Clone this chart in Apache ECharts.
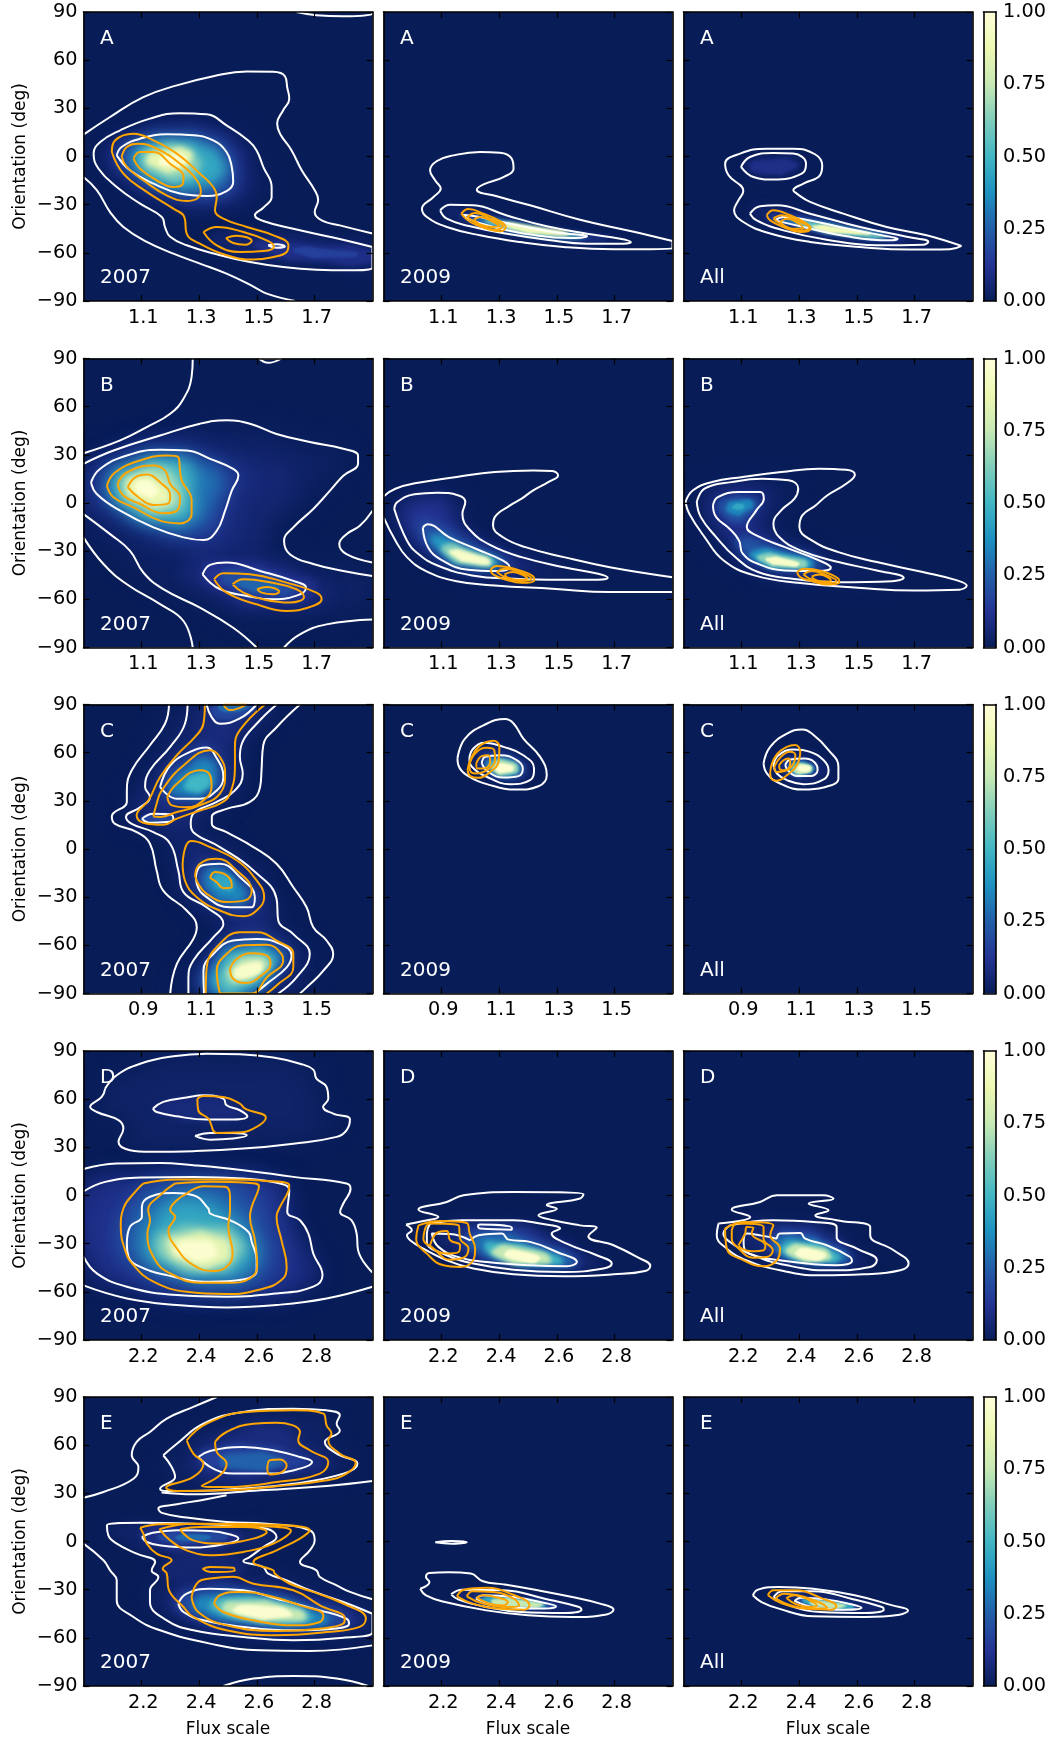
<!DOCTYPE html>
<html><head><meta charset="utf-8"><style>html,body{margin:0;background:#fff}#c{width:1055px;height:1740px}</style>
<script src="https://cdn.jsdelivr.net/npm/echarts@6/dist/echarts.min.js"></script></head><body><div id="c"></div>
<script>
const rowNames=['A','B','C','D','E'];
const yearNames=['2007','2009','All'];
const xRanges=[[0.9,1.9],[0.9,1.9],[0.7,1.7],[2,3],[2,3]];
const xTicks=[[1.1,1.3,1.5,1.7],[1.1,1.3,1.5,1.7],[0.9,1.1,1.3,1.5],[2.2,2.4,2.6,2.8],[2.2,2.4,2.6,2.8]];
const colorStops=['#081d58','#253494','#225ea8','#1d91c0','#41b6c4','#7fcdbb','#c7e9b4','#edf8b1','#ffffd9'];

// ---- A ----
const heatA2007=[
[.04,[.96,3,1.05,14,1.2,20,1.35,20,1.47,8,1.5,-10,1.5,-25,1.38,-33,1.2,-30,1.05,-18]],
[.04,[1.35,-48,1.55,-47,1.75,-51,1.9,-56,1.9,-69,1.7,-68,1.5,-64,1.35,-57]],
[.1,[1.5,-53,1.7,-55,1.9,-59,1.9,-66,1.7,-65,1.55,-61]],
[.12,[1,3,1.1,13,1.2,17,1.33,15,1.42,5,1.45,-10,1.43,-22,1.33,-28,1.2,-25,1.05,-12]],
[.16,[1.63,-57,1.75,-58,1.85,-61,1.75,-63,1.65,-61]],
[.25,[1.03,1,1.1,11,1.2,13.5,1.33,11,1.4,2,1.415,-10,1.4,-20,1.3,-24,1.17,-19,1.06,-8]],
[.45,[1.07,0,1.13,8,1.22,10,1.32,7,1.38,-2,1.38,-12,1.3,-19,1.2,-19,1.11,-12]],
[.65,[1.1,-1,1.16,6,1.24,7,1.29,1,1.3,-8,1.25,-14,1.17,-13]],
[.85,[1.12,-1,1.19,4,1.26,4,1.27,-3,1.22,-9,1.16,-8]],
[.97,[1.16,-3,1.2,1,1.25,0,1.24,-5,1.19,-6]]];
const whiteA2007=[
[1.637,90,1.706,88,1.8,87.3,1.9,89,1.9,90],
[.9,13.6,.992,24.6,1.107,37,1.223,44.3,1.349,50,1.465,53,1.557,52.8,1.597,50,1.605,43,1.612,36,1.591,28.8,1.57,20.5,1.58,14.2,1.62,3.8,1.655,-8.6,1.7,-21,1.712,-27,1.7,-34.6,1.724,-39.8,1.787,-42.9,1.9,-48],
[.9,-12.8,.946,-21,.992,-34.6,1.038,-43.9,1.119,-53.2,1.211,-60.5,1.303,-66.7,1.395,-73,1.488,-81,1.534,-85.4,1.632,-90],
[1.9,-56.4,1.764,-50.5,1.626,-45,1.522,-40.2,1.493,-36.6,1.522,-31.9,1.551,-25.2,1.551,-19,1.522,-6.5,1.499,3.8,1.47,10,1.395,19.4,1.326,26.3,1.234,27,1.13,23.6,1.027,16.3,.958,9,.935,1.8,.952,-7.6,1.015,-19,1.096,-29.4,1.171,-37.7,1.182,-44,1.2,-50,1.257,-55.3,1.361,-60.9,1.476,-65.7,1.591,-68.8,1.706,-70.5,1.822,-70.9,1.9,-69.2],
[1.015,.7,1.032,5.9,1.096,11.1,1.188,13.8,1.28,13.2,1.349,10,1.395,2.8,1.413,-6.5,1.418,-15.9,1.395,-21.5,1.326,-24.6,1.234,-23.1,1.142,-16.9,1.061,-8.6],
[1.539,-55.3,1.568,-54.7,1.597,-56,1.568,-56.8]];
const orangeA2007=[
[.998,2.8,1.009,10,1.073,14.2,1.142,10,1.223,1.8,1.303,-10.7,1.349,-19,1.361,-25.2,1.355,-33.5,1.384,-38.7,1.465,-43.9,1.557,-49.1,1.609,-55.3,1.603,-59.5,1.557,-62.6,1.488,-64.2,1.395,-61.5,1.303,-54.3,1.257,-48,1.249,-37.7,1.211,-32.5,1.119,-22,1.038,-10.7],
[1.032,-.3,1.05,5.9,1.09,8,1.153,4.9,1.234,-4.5,1.292,-14.8,1.306,-22,1.292,-26.3,1.257,-27.7,1.188,-24.2,1.107,-14.8,1.05,-6.5],
[1.073,-1.3,1.096,2.8,1.142,2.8,1.2,-4.5,1.246,-12.8,1.243,-17.3,1.211,-19,1.153,-14.8,1.096,-7.6],
[1.315,-47,1.361,-43.9,1.453,-47,1.534,-52.2,1.559,-56,1.522,-58.9,1.441,-59.5,1.361,-55.3],
[1.393,-50.8,1.43,-49.3,1.482,-52.6,1.459,-54.9,1.418,-53.9]];

const heatA2009=[
[.04,[1.11,-34,1.2,-31.5,1.33,-37,1.47,-44,1.6,-48.5,1.73,-52,1.6,-54,1.46,-51.5,1.33,-48,1.2,-43]],
[.15,[1.17,-36,1.3,-39,1.45,-44.5,1.6,-49,1.68,-51,1.55,-52,1.4,-49,1.28,-45,1.19,-40]],
[.35,[1.21,-38,1.34,-41.5,1.48,-46.5,1.6,-49.7,1.54,-50.5,1.41,-48,1.29,-43.5]],
[.6,[1.25,-39.5,1.37,-42.5,1.5,-47,1.58,-50,1.48,-49.7,1.35,-46.5]],
[.9,[1.31,-41.5,1.42,-43.5,1.54,-48,1.46,-48.7,1.35,-45.5]]];
const whiteA2009=[
[1.9,-52.6,1.754,-46.4,1.58,-39.4,1.407,-30.4,1.292,-24.8,1.223,-20.7,1.246,-17.4,1.315,-12.8,1.35,-7.6,1.344,-1.4,1.303,2.4,1.234,2.8,1.142,.7,1.085,-2.8,1.061,-8.6,1.079,-14.9,1.098,-20,1.073,-25.2,1.033,-32.5,1.05,-37.7,1.119,-43.9,1.234,-49.1,1.373,-53.3,1.523,-56.4,1.696,-57.8,1.9,-57.4],
[1.096,-33.5,1.131,-30,1.211,-30.4,1.327,-36.7,1.465,-43.5,1.604,-48.1,1.719,-51.2,1.756,-53.3,1.73,-54.3,1.604,-54.3,1.465,-51.8,1.327,-48.1,1.2,-43.5,1.119,-38.7],
[1.174,-36.3,1.234,-37.7,1.35,-42.3,1.488,-47,1.604,-49.7,1.546,-50.8,1.407,-48.5,1.281,-43.9,1.194,-39]];
const orangeA2009=[
[1.169,-35.6,1.194,-32.7,1.246,-35.6,1.298,-39.8,1.323,-43.9,1.304,-46.6,1.258,-45,1.2,-40.8],
[1.19,-37.7,1.217,-35.2,1.269,-38.7,1.313,-43.5,1.286,-45.6,1.234,-42.9],
[1.213,-39.4,1.234,-37.7,1.281,-40.8,1.301,-43.5,1.275,-43.9,1.234,-42.3]];

const heatAAll=[
[.04,[1.13,-34,1.2,-30.5,1.34,-36,1.5,-43.5,1.67,-50,1.73,-54,1.57,-54.5,1.39,-51,1.25,-46,1.15,-39]],
[.04,[1.11,-6,1.14,-1,1.21,1.5,1.28,1,1.31,-4.5,1.29,-10,1.21,-13.5,1.14,-12]],
[.1,[1.13,-6,1.2,-2,1.29,-4,1.28,-8,1.2,-11]],
[.15,[1.19,-37.5,1.25,-36,1.35,-38.5,1.47,-43.5,1.6,-48.5,1.66,-51,1.6,-52.5,1.46,-50,1.32,-45]],
[.35,[1.24,-39.5,1.36,-40.5,1.48,-45,1.6,-49.5,1.6,-51,1.47,-49,1.33,-44]],
[.6,[1.29,-40.5,1.4,-42.5,1.5,-46,1.6,-50,1.46,-49,1.34,-45]],
[.9,[1.35,-43,1.45,-44.5,1.55,-48,1.45,-48,1.37,-46]]];
const whiteAAll=[
[1.862,-55.7,1.741,-49,1.603,-43.9,1.453,-35.6,1.338,-28.3,1.292,-23.1,1.28,-21,1.315,-16.9,1.372,-11.7,1.38,-5.5,1.355,1.4,1.28,4.9,1.188,4.9,1.096,1.8,1.044,-4.5,1.056,-11.7,1.107,-21.5,1.09,-27.3,1.075,-33.5,1.107,-40.8,1.2,-48,1.338,-53.2,1.511,-56.4,1.683,-58,1.822,-57.8],
[1.099,-6.5,1.13,-.3,1.211,2.2,1.28,1.8,1.324,-4.5,1.309,-10.7,1.211,-14.4,1.142,-12.8],
[1.13,-35.6,1.165,-31,1.223,-30.4,1.338,-35.6,1.511,-43.9,1.672,-50,1.747,-53.2,1.729,-54.9,1.568,-55.3,1.395,-51.8,1.246,-46,1.153,-39.8],
[1.217,-39.8,1.246,-37.7,1.338,-39.8,1.465,-44.9,1.603,-49.7,1.641,-51.2,1.614,-52.2,1.465,-49.7,1.315,-43.9]];
const orangeAAll=[
[1.188,-36.6,1.211,-33.5,1.269,-36.6,1.326,-41.8,1.34,-45,1.303,-47,1.246,-43.9,1.2,-39.8],
[1.211,-38.7,1.24,-36.6,1.292,-39.8,1.336,-44.3,1.303,-46.4,1.246,-42.9],
[1.234,-40.8,1.257,-38.7,1.303,-42.2,1.315,-45,1.28,-45,1.252,-43.5]];

// ---- B ----
const heatB2007=[
[.03,[.9,20,1.1,37,1.4,47,1.7,35,1.8,30,1.7,8,1.55,-25,1.65,-38,1.9,-46,1.9,-60,1.6,-70,1.3,-60,1.05,-35,.9,-8]],
[.06,[.9,12,1,27,1.2,37,1.4,30,1.6,22,1.6,5,1.5,-15,1.5,-30,1.35,-32,1.2,-24,1,-10,.9,-3]],
[.06,[1.25,-38,1.45,-33,1.7,-47,1.75,-58,1.55,-67,1.35,-58]],
[.12,[1.31,-42,1.4,-37,1.6,-44,1.7,-54,1.55,-62,1.4,-56]],
[.15,[.93,13,1.05,30,1.2,34,1.35,27,1.45,17,1.41,2,1.37,-20,1.28,-24,1.03,-6]],
[.2,[1.37,-46,1.45,-42,1.6,-48,1.64,-54,1.52,-58,1.42,-53]],
[.27,[1.43,-49,1.5,-48,1.58,-52,1.52,-55,1.46,-53]],
[.3,[.98,13,1.05,25,1.2,30,1.3,26,1.38,16,1.35,0,1.3,-14,1.15,-14,1.02,-3]],
[.5,[1,12,1.08,23,1.2,27,1.27,22,1.28,5,1.27,-8,1.17,-11,1.06,-3]],
[.7,[1.03,11,1.09,20,1.18,22,1.22,15,1.24,2,1.2,-5,1.1,-3]],
[.88,[1.05,10,1.09,17,1.15,15,1.2,5,1.18,-1,1.1,1]],
[.98,[1.08,10,1.11,14,1.15,10,1.15,5,1.11,5]]];
const whiteB2007=[
[1.278,90,1.274,78.5,1.246,65,1.2,55.6,1.119,47.3,1.027,39,.9,31],
[1.507,90,1.539,87.3,1.585,90],
[.9,24.4,1.004,32.7,1.165,42,1.303,49.4,1.395,51.5,1.476,49.4,1.568,43,1.683,38,1.799,33.8,1.85,29.6,1.85,24.4,1.799,17,1.753,7.7,1.695,-3.7,1.626,-15.2,1.594,-23.5,1.614,-31.9,1.695,-38,1.799,-42.3,1.9,-45.4],
[1.9,-4.8,1.856,-14.2,1.81,-19.4,1.785,-25.6,1.81,-31.9,1.9,-37],
[.9,-6.9,.992,-19.4,1.061,-29.8,1.107,-43.3,1.176,-53.7,1.303,-65.2,1.418,-77.7,1.499,-90],
[.9,-21.4,.969,-38,1.05,-50.6,1.165,-63,1.246,-73.5,1.278,-90],
[1.594,-90,1.649,-81.8,1.741,-75.6,1.9,-72.5],
[.926,12.9,.958,21.3,1.05,29.6,1.165,33.1,1.257,32.7,1.338,27.5,1.418,21.3,1.436,17.1,1.413,7.7,1.39,-4.8,1.361,-17.3,1.315,-23.1,1.246,-21.4,1.142,-15.2,1.027,-4.8,.946,5.6],
[1.312,-44.4,1.338,-38.5,1.395,-37,1.511,-42.3,1.626,-48.5,1.67,-52.7,1.649,-56.9,1.557,-60,1.465,-57.9,1.372,-53.7]];
const orangeB2007=[
[.981,10.8,1.009,19,1.096,26.5,1.188,29.6,1.228,28.6,1.234,20.2,1.24,14,1.274,1.5,1.274,-6.9,1.234,-12.7,1.165,-11,1.073,-2.7,1.004,3.6],
[1.018,11.9,1.05,19,1.142,23.3,1.182,20.2,1.2,11.9,1.234,3.6,1.228,-3.7,1.176,-6.4,1.096,-.6,1.038,4.6],
[1.053,9.8,1.079,16,1.119,17.7,1.165,12.9,1.2,4.6,1.194,-.2,1.142,-1.2,1.09,3.6],
[1.352,-47.5,1.384,-43.7,1.476,-44.4,1.603,-49.6,1.706,-55.8,1.724,-60,1.683,-64.8,1.603,-67.3,1.499,-63.1,1.395,-55.8],
[1.416,-50.6,1.453,-47.5,1.534,-49,1.637,-53.7,1.663,-58.5,1.614,-62,1.522,-60,1.453,-55.8],
[1.501,-53.7,1.534,-52.3,1.577,-55.2,1.557,-56.9,1.516,-55.8]];

const heatB2009=[
[.04,[.95,-2,1.01,4.5,1.15,4,1.17,-5,1.2,-18,1.3,-28,1.5,-38,1.6,-44,1.45,-46,1.25,-45,1.1,-37,.99,-22]],
[.12,[.97,-5,1.03,1,1.12,0,1.13,-10,1.2,-22,1.33,-34,1.4,-40,1.25,-42,1.1,-35,1,-20]],
[.22,[1.02,-12,1.06,-12,1.2,-25,1.33,-37,1.28,-41,1.17,-39,1.07,-28]],
[.4,[1.07,-20,1.2,-29,1.3,-37,1.2,-39,1.1,-31]],
[.65,[1.11,-26,1.2,-29.5,1.28,-37,1.2,-38.5,1.12,-33]],
[.95,[1.13,-29.5,1.2,-31,1.27,-37,1.2,-37.5,1.14,-33]]];
const whiteB2009=[
[.9,4.1,.941,8.9,1.02,12.6,1.153,16.2,1.285,19.3,1.418,20.3,1.484,20,1.504,17.2,1.47,13,1.418,7.9,1.378,2.7,1.338,-1.5,1.285,-8.8,1.279,-14,1.312,-21.2,1.391,-27.5,1.524,-33.7,1.683,-40,1.9,-46.2],
[.9,-8.8,.941,-23.3,.981,-33.7,1.047,-42.4,1.153,-48.7,1.285,-51.4,1.484,-53.4,1.683,-55.5,1.9,-55.5],
[.937,-3.6,.948,.6,1.007,5.4,1.087,6.4,1.16,4.7,1.183,.6,1.173,-6.7,1.2,-17,1.272,-26.4,1.378,-33.7,1.524,-40,1.643,-44.1,1.676,-46.6,1.643,-47.8,1.51,-47.8,1.352,-47.2,1.206,-45.1,1.087,-38.9,1.02,-31.6,.981,-23.3],
[1.036,-15.4,1.053,-13.3,1.126,-21.2,1.219,-28.5,1.312,-35.8,1.336,-40,1.285,-42.4,1.193,-41.6,1.1,-35.4,1.054,-27.5]];
const orangeB2009=[
[1.27,-41.6,1.292,-39.3,1.352,-41,1.418,-45.7,1.422,-48.2,1.378,-49.7,1.325,-47.8,1.279,-44.5],
[1.292,-43,1.319,-41,1.372,-43,1.412,-47.2,1.372,-48.6,1.325,-46.6],
[1.319,-44.5,1.345,-43,1.385,-45.1,1.398,-47.2,1.365,-47.8,1.332,-46.6]];

const heatBAll=[
[.04,[.97,0,1,8,1.17,12,1.27,8,1.22,-5,1.2,-14,1.3,-30,1.5,-39,1.6,-46,1.4,-47,1.2,-44,1.08,-32,1,-18]],
[.12,[.99,-2,1.02,5,1.17,6,1.18,1,1.13,-13,1.2,-24,1.38,-37,1.38,-43,1.2,-41,1.1,-31,1.06,-18]],
[.22,[1.02,-2,1.05,3,1.13,3,1.16,0,1.12,-9,1.08,-12,1.04,-8]],
[.22,[1.09,-22,1.2,-26,1.38,-38,1.3,-42,1.15,-37,1.1,-30]],
[.35,[1.05,-2,1.09,1.5,1.14,0,1.11,-6,1.07,-7]],
[.4,[1.14,-30,1.25,-31,1.35,-38,1.25,-41,1.15,-36]],
[.45,[1.07,-2,1.1,-.5,1.11,-3,1.08,-4]],
[.65,[1.16,-32.5,1.25,-33,1.33,-38,1.25,-40.5,1.17,-36.5]],
[.95,[1.19,-34,1.26,-35,1.3,-38.5,1.24,-39,1.19,-36.5]]];
const whiteBAll=[
[.907,.6,.933,7.9,.999,13.1,1.105,16.2,1.238,19.3,1.37,21.4,1.463,20.7,1.493,17.6,1.463,12,1.397,4.7,1.357,-1.5,1.311,-7.7,1.301,-15,1.344,-23.3,1.436,-30.6,1.569,-36.8,1.728,-43,1.847,-48.2,1.88,-51.4,1.854,-54,1.701,-54.5,1.503,-52.8,1.304,-49.9,1.145,-45.1,1.039,-35.8,.973,-21.2,.92,-6.7],
[.946,.6,.973,8.9,1.066,13,1.172,15.1,1.264,14.1,1.297,8.9,1.284,2.7,1.238,-4.6,1.211,-12.9,1.231,-21.2,1.304,-29.5,1.436,-36.8,1.569,-42,1.662,-46.6,1.622,-48.7,1.436,-49.3,1.277,-47.2,1.158,-43,1.079,-33.7,1.013,-21.2,.96,-8.8],
[1.002,-1.5,1.019,3.7,1.092,6.8,1.165,6.8,1.178,2.7,1.152,-4.6,1.119,-15,1.152,-20.2,1.251,-27.5,1.37,-35.8,1.41,-40.3,1.37,-42.4,1.251,-42,1.158,-37.9,1.105,-31.6,1.092,-23.3,1.059,-16,1.013,-8.8]];
const orangeBAll=[
[1.293,-43,1.317,-41,1.377,-42.4,1.436,-47.2,1.439,-49.3,1.397,-50.7,1.344,-48.7,1.304,-46.2],
[1.315,-44.5,1.344,-42.4,1.397,-45.1,1.43,-48.7,1.39,-49.9,1.344,-47.8],
[1.344,-45.7,1.37,-44.5,1.407,-47.2,1.41,-48.7,1.377,-48.9,1.35,-47.2]];

// ---- C ----
const heatC2007=[
[.03,[1.06,90,.93,50,.85,20,.95,12,1.03,-13,1.08,-30,1.18,-47,1.06,-80,1.06,-90,1.38,-90,1.48,-65,1.37,-44,1.36,-30,1.17,2,1.08,14,1.16,29,1.25,47,1.25,65,1.37,90]],
[.08,[1.12,90,1.1,72,1.02,58,.95,38,.88,20,1,15,1.06,2,1.06,-25,1.2,-42,1.22,-50,1.12,-75,1.12,-90,1.34,-90,1.42,-66,1.33,-50,1.33,-30,1.2,-6,1.07,7,1.07,22,1.2,35,1.2,55,1.22,68,1.32,90]],
[.18,[1.15,90,1.18,80,1.3,90]],
[.18,[.97,38,1.07,60,1.13,63,1.18,46,1.15,35,1.03,30]],
[.18,[1.09,-16,1.14,-9,1.24,-17,1.3,-30,1.27,-37,1.2,-37,1.12,-30]],
[.18,[1.12,-90,1.15,-65,1.25,-55,1.38,-59,1.41,-67,1.3,-87,1.29,-90]],
[.18,[.9,19,.95,22,1,21,1,17.5,.93,16.5]],
[.28,[1.17,90,1.2,85,1.27,90]],
[.35,[1,38,1.07,52,1.13,56,1.16,46,1.13,36,1.05,33]],
[.35,[1.12,-17,1.16,-12,1.23,-20,1.26,-31,1.2,-33,1.14,-27]],
[.35,[1.15,-90,1.16,-70,1.25,-60,1.37,-63,1.38,-70,1.28,-90]],
[.45,[1.15,-18,1.19,-16,1.22,-23,1.19,-26]],
[.5,[1.05,40,1.1,47,1.14,44,1.12,37,1.07,36]],
[.55,[1.18,-88,1.18,-72,1.26,-64,1.36,-68,1.34,-75,1.27,-85]],
[.75,[1.2,-80,1.22,-72,1.28,-67,1.34,-71,1.31,-78,1.25,-83]],
[.95,[1.22,-78,1.27,-71,1.32,-73,1.27,-80]]];
const whiteC2007=[
[.996,90,.982,78,.93,64.6,.867,49,.85,36.5,.85,29.3,.798,20.3,.809,15.7,.884,10.5,.93,3.3,.953,-13.4,.976,-25.9,1.057,-38.3,1.092,-48.7,1.08,-56,1.023,-71.6,1,-90],
[1.449,90,1.369,76,1.322,64.6,1.316,49,1.311,38.6,1.276,29.3,1.195,25,1.144,20,1.144,15.7,1.195,10.5,1.288,1.2,1.368,-9.2,1.426,-23.8,1.472,-36.3,1.495,-48.7,1.541,-57,1.564,-65.4,1.53,-75.8,1.472,-86.2,1.449,-90],
[1.06,90,1.051,78,1,63.6,.93,49,.913,38.6,.93,32.4,.896,26,.847,20,.867,15.7,.942,10.5,1,3.3,1.028,-13.4,1.046,-26.9,1.126,-36.3,1.184,-46.7,1.149,-55,1.08,-69.5,1.063,-80,1.063,-90],
[1.368,90,1.299,78,1.248,65.7,1.241,57.3,1.251,47,1.224,36.5,1.161,29.3,1.08,22,1.071,15.7,1.08,10.5,1.172,1.2,1.288,-13.4,1.368,-31,1.374,-44.6,1.426,-53,1.483,-65.4,1.437,-80,1.374,-90],
[1.126,90,1.143,82.3,1.172,78,1.241,81.3,1.299,90],
[.965,38.6,1,52,1.069,60.5,1.126,63.2,1.155,58.4,1.184,44.9,1.161,36.5,1.103,31.3,1.023,31.3],
[.902,18.9,.942,22,1,21.6,1.011,18.9,.988,16.8,.93,16.4],
[1.089,-16.5,1.109,-10.3,1.172,-9.2,1.241,-17.5,1.293,-30,1.281,-36.3,1.207,-36.3,1.126,-30,1.092,-21.7],
[1.117,-90,1.115,-75.8,1.149,-65.4,1.218,-57,1.299,-56,1.38,-59,1.42,-66.4,1.403,-73.7,1.334,-84,1.293,-90]];
const orangeC2007=[
[1.12,90,1.115,78,1.086,69.8,1.023,58.4,.965,44.9,.925,30.3,.884,21,.907,16.4,.976,15.1,1.023,18.9,1.103,24,1.172,28.2,1.207,34.5,1.224,53.2,1.224,63.6,1.241,74,1.328,90],
[.942,20.3,.953,28.2,.971,36.5,1.046,52,1.138,61.5,1.172,57.3,1.19,47,1.172,34.5,1.103,27.2,1.023,23,.965,20],
[.99,32.4,1.023,40.7,1.103,49,1.138,45.9,1.143,38.6,1.115,30.3,1.057,26,1.006,27.2],
[1.184,90,1.207,86.5,1.264,90],
[1.043,-9.2,1.055,2.2,1.074,5,1.138,1.2,1.23,-7,1.299,-19.6,1.325,-30,1.299,-38.3,1.253,-41.9,1.172,-38.3,1.092,-30,1.051,-19.6],
[1.086,-16.5,1.103,-9.2,1.161,-6,1.23,-13.4,1.282,-25.9,1.259,-32,1.195,-33,1.126,-27.9,1.097,-21.7],
[1.138,-18,1.155,-14.4,1.207,-18.6,1.213,-23.8,1.184,-24.4,1.161,-20.7],
[1.123,-90,1.126,-73.7,1.172,-59,1.241,-51.9,1.299,-51.9,1.368,-57,1.426,-65.4,1.426,-73.7,1.368,-85,1.334,-90],
[1.172,-90,1.161,-75.8,1.195,-65.4,1.253,-60,1.334,-59.6,1.385,-65.4,1.391,-69.5,1.334,-80,1.282,-90],
[1.207,-74.7,1.23,-68.5,1.282,-65,1.334,-66.4,1.347,-71.6,1.322,-77.9,1.26,-83.5,1.219,-81]];

const heatC2009=[
[.05,[1.01,56,1.05,65,1.11,63,1.18,57,1.21,50,1.2,44,1.14,41,1.06,46]],
[.2,[1.04,54,1.06,59,1.11,59,1.17,55,1.19,50,1.17,45,1.11,44,1.06,48]],
[.45,[1.06,54,1.1,56,1.15,54,1.17,50,1.15,46,1.1,46,1.07,49]],
[.7,[1.08,53.5,1.13,55,1.165,50,1.13,46.5,1.085,47.5]],
[.97,[1.09,52,1.13,53,1.15,50,1.12,47.5,1.09,48.5]]];
const whiteC2009=[
[.956,56.4,.982,68.8,1.057,78,1.121,80.9,1.15,78.2,1.184,68.8,1.242,57.4,1.265,46,1.236,39.1,1.161,37,1.069,39.8,.988,46,.959,52.2],
[.997,56.4,1.011,62.6,1.052,66.1,1.115,63.6,1.184,58.4,1.221,50.1,1.207,42.9,1.138,40.4,1.057,45,1.006,51.2],
[1.04,53.3,1.052,57.4,1.104,58.4,1.161,55.3,1.182,50.1,1.167,45.4,1.115,44.5,1.063,48]];
const orangeC2009=[
[.991,49.1,1,55.3,1.029,63.6,1.08,67.4,1.101,63.6,1.098,54.3,1.069,48,1.029,44.3,1,45.4],
[.997,52.2,1.017,59.5,1.057,63,1.083,61.6,1.086,55.3,1.057,49.1,1.017,47,1,48.7],
[1.021,53.3,1.04,57.8,1.063,58.4,1.069,54.3,1.046,50.1,1.025,50.1]];

const heatCAll=[
[.05,[1.02,54,1.07,61,1.13,59,1.18,54,1.2,48,1.17,43,1.1,41,1.04,45]],
[.2,[1.05,52,1.08,56,1.13,55,1.16,50,1.13,46,1.08,45.5]],
[.45,[1.07,51.5,1.1,54,1.14,52,1.15,49.5,1.12,46.5,1.08,47]],
[.75,[1.085,51.5,1.12,53,1.145,50,1.12,47,1.085,47.5]],
[.97,[1.095,51,1.13,52,1.14,49.5,1.11,48]]];
const whiteCAll=[
[.977,53.3,1,63.6,1.058,71.9,1.11,74.4,1.144,71.9,1.202,61.6,1.236,51.2,1.236,43.9,1.184,38.3,1.115,37,1.034,40.8,.989,47],
[1.011,52.2,1.029,58.4,1.081,62,1.138,60.5,1.185,55.3,1.202,49.1,1.185,43.3,1.115,40.4,1.058,42.9,1.023,47],
[1.052,52.2,1.069,55.7,1.121,56.4,1.161,52.2,1.164,49.1,1.138,45.4,1.092,45.4,1.063,48.7]];
const orangeCAll=[
[1,48,1.017,57.4,1.058,63.6,1.087,64.7,1.104,60.5,1.092,52.2,1.058,46,1.023,42.5,1.002,44.5],
[1.014,51.2,1.037,57.4,1.069,60.5,1.087,58.4,1.081,53.3,1.052,48.7,1.023,48],
[1.031,52.2,1.046,55.3,1.063,56.4,1.069,53.3,1.052,49.1,1.035,49.5]];

// ---- D ----
const heatD2007=[
[.03,[2.05,55,2.2,80,2.5,86,2.78,78,2.82,55,2.86,42,2.5,31,2.18,30,2.15,44]],
[.05,[2.01,2,2.2,10,2.55,10,2.7,5,2.72,-15,2.78,-35,2.8,-52,2.5,-62,2.15,-55,2.01,-38]],
[.07,[2.24,54,2.4,62,2.5,58,2.55,50,2.4,46,2.28,50]],
[.1,[2.01,3,2.2,10,2.55,9,2.68,5,2.7,-15,2.75,-35,2.78,-52,2.5,-62,2.15,-55,2.01,-35]],
[.18,[2.1,-25,2.13,-10,2.2,5,2.35,8,2.6,6,2.65,-15,2.68,-40,2.6,-55,2.4,-58,2.2,-48,2.11,-35]],
[.3,[2.17,-30,2.2,-8,2.3,2,2.45,4,2.55,-10,2.6,-30,2.6,-45,2.5,-53,2.35,-50,2.2,-40]],
[.45,[2.21,-30,2.25,-16,2.3,-5,2.42,-5,2.5,-14,2.57,-25,2.58,-42,2.45,-51,2.3,-46,2.22,-38]],
[.65,[2.25,-30,2.3,-22,2.42,-20,2.53,-25,2.53,-40,2.42,-47,2.3,-42]],
[.85,[2.29,-31,2.34,-25,2.46,-25,2.51,-34,2.47,-43,2.37,-43]],
[.97,[2.32,-32,2.4,-28,2.46,-33,2.43,-40,2.35,-38]]];
const whiteD2007=[
[2.075,66.6,2.115,74.9,2.196,82.1,2.311,86.7,2.426,88.3,2.541,87.9,2.657,85.9,2.749,82.1,2.795,78.4,2.806,72.8,2.841,67.6,2.847,60.3,2.829,55.2,2.864,51,2.922,47.5,2.91,40.6,2.876,36.5,2.726,32.3,2.553,29.2,2.38,27.6,2.23,27.2,2.161,28.2,2.121,33.4,2.138,41.7,2.121,46.9,2.046,52,2.023,55.2,2.063,61.4],
[2.24,54,2.276,58.3,2.357,61,2.415,62.4,2.484,60.3,2.495,56.2,2.541,53.1,2.567,49.3,2.518,47.3,2.426,47.3,2.323,49.3,2.253,52],
[2.386,37.1,2.438,39,2.518,39,2.565,37.5,2.518,35.5,2.438,34.8],
[2,16.5,2.115,19.9,2.265,20.3,2.38,18.9,2.553,15.8,2.726,11.6,2.91,7.5,2.924,4.3,2.899,-5,2.888,-10.2,2.927,-15.4,2.945,-23.7,2.95,-34,3,-48],
[2,2.5,2.075,8.5,2.207,11.2,2.38,11.6,2.553,10.6,2.68,7.5,2.712,3.3,2.705,-10.2,2.749,-15.4,2.778,-23.7,2.795,-36.1,2.827,-49.6,2.795,-56.8,2.668,-61,2.495,-63,2.323,-62,2.15,-56.8,2.046,-48.5,2,-38],
[2,-56,2.15,-64.1,2.323,-68.2,2.495,-69.7,2.668,-68.2,2.841,-64.1,3,-56.8],
[2.15,-29.9,2.161,-19.5,2.202,-13.3,2.202,-7.1,2.23,-.8,2.311,1.6,2.38,.2,2.432,-8.1,2.438,-11.2,2.507,-15.4,2.57,-22.6,2.582,-28.8,2.599,-40.2,2.599,-46.5,2.553,-52.3,2.438,-53.7,2.288,-49.6,2.184,-43.4,2.156,-38.2]];
const orangeD2007=[
[2.207,7.5,2.323,9.9,2.495,9.9,2.634,9.1,2.712,6.4,2.708,2.3,2.68,-7.1,2.668,-13.3,2.685,-27.8,2.703,-44.4,2.685,-52.7,2.611,-58.5,2.495,-61.4,2.357,-60,2.242,-53.7,2.173,-43.4,2.144,-34,2.129,-19.5,2.138,-8.1,2.184,3.3],
[2.317,7.5,2.438,8.5,2.565,7.9,2.607,5.8,2.582,-7.1,2.576,-13.3,2.593,-27.8,2.601,-44.4,2.576,-51.6,2.507,-54.3,2.403,-54.3,2.3,-48.5,2.248,-40.2,2.221,-23.7,2.23,-15.4,2.224,-9.1,2.265,.2],
[2.357,1.2,2.415,5.8,2.49,5.4,2.507,-.8,2.507,-9.1,2.501,-19.5,2.516,-36.1,2.495,-44.4,2.449,-47,2.38,-43.4,2.323,-33,2.294,-21.6,2.317,-13.3,2.3,-9.1,2.323,-3],
[2.394,60.3,2.415,62,2.484,61.4,2.541,57.2,2.559,54.1,2.631,48.5,2.588,41.7,2.53,39.2,2.461,39,2.432,47.9,2.397,53.1]];

const heatD2009=[
[.05,[2.2,-21,2.45,-17,2.58,-24,2.7,-36,2.75,-44,2.6,-46,2.4,-44,2.25,-36]],
[.15,[2.27,-24,2.35,-19.5,2.5,-21,2.55,-27,2.68,-40,2.62,-45,2.42,-42,2.3,-35]],
[.3,[2.3,-28,2.41,-24,2.5,-29,2.66,-41,2.6,-44,2.45,-42,2.33,-35]],
[.5,[2.35,-31,2.43,-30,2.52,-33,2.62,-41,2.55,-43,2.43,-41]],
[.75,[2.38,-33.5,2.48,-32.5,2.58,-40,2.5,-42.5,2.41,-40]],
[.97,[2.42,-35.5,2.5,-35.5,2.54,-40,2.47,-41]]];
const whiteD2009=[
[2.078,-18.1,2.138,-15.9,2.19,-13.4,2.121,-8.8,2.219,-4,2.277,.1,2.45,2.2,2.692,.8,2.68,-1.9,2.565,-6.1,2.6,-8.2,2.536,-12.3,2.588,-15.4,2.68,-18.6,2.738,-20,2.709,-25.4,2.796,-31,2.877,-38.3,2.923,-43.9,2.905,-47,2.796,-49.1,2.623,-50.3,2.45,-49.1,2.311,-45.5,2.219,-40.4,2.138,-33.1,2.092,-27.9,2.081,-24.8,2.098,-21.7],
[2.161,-17.5,2.277,-15.4,2.45,-15.4,2.542,-17.5,2.611,-20.6,2.582,-23.7,2.634,-30,2.738,-37.2,2.79,-42.4,2.761,-45.5,2.623,-47.6,2.45,-46.2,2.311,-42.4,2.219,-37.2,2.15,-28.9,2.15,-23.7],
[2.3,-27.9,2.329,-24.8,2.409,-23.7,2.433,-27.5,2.507,-28.9,2.6,-35.2,2.669,-41.4,2.634,-44.1,2.507,-43.5,2.358,-41.4,2.265,-38.7,2.19,-32,2.167,-23.7,2.23,-24],
[2.326,-18.6,2.334,-18,2.444,-20,2.444,-21.3,2.334,-20.6]];
const orangeD2009=[
[2.121,-18.6,2.196,-15.9,2.288,-17.1,2.298,-23.7,2.317,-33,2.306,-41.4,2.265,-44.5,2.208,-43.5,2.15,-36.2,2.113,-26.9],
[2.144,-20.6,2.161,-17.5,2.26,-18.6,2.265,-26.9,2.294,-33,2.277,-38.7,2.231,-40,2.173,-33,2.138,-26.9],
[2.161,-31,2.173,-25.8,2.19,-22.7,2.219,-22.1,2.231,-27.9,2.265,-31,2.26,-35.2,2.219,-36.2,2.179,-34.1]];

const heatDAll=[
[.05,[2.19,-20,2.4,-17,2.52,-22,2.6,-35,2.64,-42,2.5,-45,2.35,-42,2.22,-33]],
[.15,[2.3,-24,2.4,-20,2.5,-27,2.58,-38,2.55,-43,2.42,-42,2.3,-35]],
[.3,[2.32,-27,2.41,-25,2.5,-31,2.57,-39,2.52,-42,2.4,-41,2.32,-34]],
[.5,[2.34,-31,2.42,-29,2.5,-33,2.54,-40,2.45,-41,2.36,-38]],
[.75,[2.36,-32.5,2.44,-31.5,2.51,-37,2.47,-41,2.38,-38.5]],
[.97,[2.39,-34.5,2.46,-34,2.49,-38.5,2.42,-39.5]]];
const whiteDAll=[
[2.121,-17.5,2.231,-13.4,2.167,-8.8,2.265,-4,2.323,.1,2.484,.1,2.519,-2,2.433,-5,2.502,-9.2,2.456,-12.3,2.53,-15.4,2.646,-19.6,2.646,-24.8,2.727,-34.1,2.779,-42.4,2.75,-46.6,2.623,-49.1,2.473,-49.7,2.334,-46.6,2.219,-40.4,2.15,-33.1,2.115,-24.8],
[2.161,-18.6,2.311,-15.4,2.45,-16.5,2.53,-19.6,2.53,-25.8,2.6,-33.1,2.669,-40.4,2.646,-44.5,2.507,-46.6,2.358,-43.5,2.242,-37.2,2.161,-29,2.138,-23.7],
[2.323,-26.9,2.334,-23.7,2.404,-23.3,2.421,-26.9,2.496,-31,2.577,-38.3,2.583,-40.8,2.53,-43.5,2.427,-42.4,2.334,-40.4,2.265,-38.3,2.213,-34.1,2.208,-29,2.219,-23.7,2.27,-25]];
const orangeDAll=[
[2.144,-20.6,2.208,-16.5,2.311,-18.6,2.3,-24.8,2.334,-33,2.323,-40.4,2.277,-44.1,2.208,-40.4,2.15,-33.1],
[2.167,-21.7,2.185,-17.5,2.277,-19.6,2.277,-26.9,2.309,-34.1,2.288,-38.3,2.242,-38.7,2.185,-32,2.167,-26.9],
[2.19,-31,2.213,-23.7,2.219,-19.6,2.242,-20,2.236,-23.7,2.283,-31,2.277,-34.1,2.236,-34.7,2.202,-33.1]];

// ---- E ----
const heatE2007=[
[.03,[2.23,-35,2.29,-22,2.45,-17,2.65,-20,2.85,-33,3,-42,3,-55,2.8,-59,2.5,-57,2.3,-47]],
[.03,[2.3,53,2.45,72,2.7,80,2.85,76,2.85,62,2.93,49,2.7,36,2.4,33,2.3,40]],
[.03,[2.1,10,2.4,11,2.65,8,2.55,-8,2.3,-10,2.15,-2]],
[.05,[2.3,-10,2.5,-8,2.55,-20,2.3,-25]],
[.08,[2.38,52,2.5,66,2.7,72,2.75,60,2.85,50,2.7,40,2.45,37,2.4,44]],
[.09,[2.2,7,2.35,9,2.52,6,2.55,2,2.4,-5,2.25,-3]],
[.1,[2.3,-36,2.4,-28,2.55,-27,2.75,-34,2.95,-46,2.95,-52,2.75,-57,2.5,-55,2.35,-46]],
[.16,[2.4,52,2.45,58,2.6,60,2.75,53,2.78,49,2.65,44,2.48,44]],
[.18,[2.26,4,2.4,6,2.5,3,2.4,-1,2.28,0]],
[.2,[2.33,-38,2.42,-29.5,2.56,-30.5,2.78,-39,2.91,-48,2.87,-53,2.7,-55,2.5,-52,2.38,-46]],
[.26,[2.47,50,2.55,55,2.68,52,2.68,47,2.55,45]],
[.28,[2.32,3,2.4,4.5,2.44,2,2.36,.5]],
[.35,[2.38,-38,2.48,-33,2.62,-34,2.78,-42,2.85,-49,2.75,-52.5,2.55,-50,2.42,-45]],
[.55,[2.44,-39,2.52,-35,2.64,-37,2.78,-45,2.77,-50,2.6,-49,2.47,-44]],
[.75,[2.48,-40.5,2.57,-37,2.69,-39.5,2.77,-46.5,2.69,-49.5,2.54,-47]],
[.97,[2.52,-42,2.62,-40,2.72,-44.5,2.68,-47.5,2.57,-46.5]]];
const whiteE2007=[
[2,27.3,2.069,30.8,2.173,39.1,2.19,46.4,2.167,53.7,2.184,62,2.23,68.2,2.288,76.5,2.38,83.8,2.461,90],
[2.276,53.7,2.323,60.9,2.415,73.4,2.553,80.7,2.726,82.7,2.841,81.7,2.887,78.6,2.876,73.4,2.887,69.2,2.835,62,2.876,54.7,2.948,48.5,2.899,42.3,2.726,36,2.553,33,2.38,31.5,2.288,31.5,2.265,32.9,2.317,40.2,2.305,46.4],
[3,37.7,2.841,34.6,2.611,31.9,2.38,29.4,2.27,30.5],
[2.495,28.8,2.403,25.6,2.323,23.2,2.259,20.5,2.271,17.8,2.357,14.9,2.495,12.2,2.634,11.1,2.783,7,2.8,.7,2.783,-5.5,2.749,-12.8,2.806,-18,2.818,-22.1,2.876,-27.3,2.922,-31.4,3,-36],
[3,-45,2.899,-37.7,2.783,-30.4,2.703,-24.2,2.639,-20,2.622,-15.9,2.553,-12.1,2.576,-9.6,2.622,-3.4,2.668,2.8,2.634,8,2.518,10,2.38,11,2.207,11.7,2.081,10.1,2.086,3.8,2.115,-1.3,2.184,-7.6,2.248,-12.8,2.236,-18,2.259,-22.1,2.23,-30.4,2.23,-37.7,2.288,-49.1,2.38,-55.3,2.553,-59.5,2.726,-61.5,2.899,-59.9,3,-56.4],
[2,-1.3,2.069,-11.7,2.092,-18,2.115,-24.2,2.115,-36.6,2.173,-47,2.265,-55.3,2.438,-63.6,2.611,-67.8,2.783,-68.2,3,-64.7],
[2.484,-90,2.588,-85.4,2.726,-83.8,2.876,-85.4,2.985,-90],
[2.202,2.8,2.236,5.3,2.323,7,2.438,6.5,2.518,3.8,2.536,1.8,2.495,-1.3,2.38,-3.8,2.265,-2.4,2.219,-.3],
[2.397,52.6,2.438,56.4,2.553,58.9,2.668,56.4,2.749,52.6,2.791,49.5,2.749,45.4,2.634,42.3,2.518,42.3,2.449,45.4],
[2.328,-38.7,2.357,-32.5,2.438,-29.4,2.553,-30.4,2.668,-35.6,2.818,-42.9,2.91,-48,2.919,-51.2,2.864,-54.3,2.726,-55.3,2.553,-53.2,2.415,-49.1,2.346,-43.9]];
const orangeE2007=[
[2.357,63,2.426,73.4,2.564,80.7,2.726,81.7,2.83,79.6,2.841,72.4,2.858,67.2,2.847,63,2.887,54.7,2.942,48.9,2.91,42.3,2.841,38.1,2.668,34.4,2.495,31.9,2.323,31.5,2.286,33.5,2.38,40.2,2.415,48.5,2.38,54.7],
[2.455,62,2.495,68.2,2.588,73.4,2.668,74,2.749,68.2,2.743,63,2.783,56.8,2.847,49.5,2.818,42.3,2.668,37,2.495,33.9,2.409,34.6,2.472,41.2,2.495,48.5,2.461,55.7],
[2.636,44.3,2.645,50.6,2.68,51,2.703,47.4,2.674,42.3,2.645,41.8],
[2.196,8.6,2.265,10.7,2.438,11,2.611,10.7,2.783,7,2.749,1.8,2.668,-5.5,2.588,-12.8,2.657,-18,2.662,-20,2.714,-26.3,2.795,-31.4,2.899,-38.7,2.977,-48,2.956,-53.2,2.841,-56.4,2.668,-58.4,2.495,-55.3,2.38,-47,2.346,-40.8,2.294,-29.4,2.288,-20,2.274,-17,2.305,-11.7,2.253,-7.6,2.219,-1.3,2.207,4.9],
[2.263,7.7,2.38,11,2.553,10,2.718,6.5,2.657,-1.3,2.553,-6.5,2.449,-8.6,2.357,-5.5,2.3,.7],
[2.334,7.6,2.403,9,2.553,9,2.634,5.9,2.588,1.8,2.461,-1.3,2.38,.7,2.346,4.9],
[2.412,-17,2.438,-15.9,2.518,-16.3,2.523,-18.4,2.438,-19],
[2.374,-34.6,2.397,-25.2,2.438,-23.1,2.518,-22,2.588,-26.3,2.726,-30.4,2.818,-39.8,2.904,-48,2.899,-51.2,2.818,-54.3,2.668,-55.7,2.495,-52.2,2.397,-43.9],
[2.452,-38.7,2.472,-33.5,2.541,-31.4,2.634,-33.5,2.749,-39.8,2.83,-46,2.818,-50.1,2.726,-52.2,2.588,-49.1,2.484,-43.9]];

const heatE2009=[
[.05,[2.25,-33,2.3,-30.5,2.45,-32,2.6,-37,2.66,-41.5,2.55,-44,2.4,-42.5,2.3,-38]],
[.2,[2.32,-35,2.36,-33.5,2.47,-35,2.6,-40,2.55,-41.8,2.43,-41,2.36,-38.5]],
[.45,[2.34,-35.5,2.45,-35.5,2.56,-39.5,2.5,-41.3,2.39,-39.5]],
[.75,[2.38,-36,2.5,-37,2.55,-40,2.45,-41,2.38,-39]]];
const whiteE2009=[
[2.179,-.5,2.236,.3,2.288,-.5,2.236,-1.4],
[2.127,-29.4,2.159,-25.2,2.147,-22.1,2.159,-19.6,2.225,-19.2,2.302,-20,2.344,-24.8,2.415,-26.7,2.534,-30.4,2.653,-34.6,2.749,-38.7,2.796,-42.5,2.772,-45.4,2.653,-47,2.5,-46,2.356,-42.9,2.213,-37.7,2.147,-33.5],
[2.234,-32.9,2.272,-30,2.415,-30.4,2.558,-35.6,2.677,-40.8,2.685,-42.5,2.63,-44.5,2.475,-43.9,2.356,-40.8,2.26,-36.2],
[2.32,-35.6,2.344,-33.5,2.451,-34.6,2.558,-38.3,2.597,-40.4,2.558,-41.8,2.451,-41.2,2.367,-38.7]];
const orangeE2009=[
[2.254,-34.2,2.278,-30,2.356,-28.8,2.439,-32.5,2.505,-39.8,2.487,-42.5,2.391,-41.8,2.308,-38.7],
[2.288,-34.2,2.308,-31,2.379,-31.5,2.451,-35.6,2.469,-39.8,2.427,-40.8,2.344,-38.7],
[2.322,-35,2.344,-33.5,2.397,-35,2.43,-37.7,2.415,-39.8,2.367,-38.7]];

const heatEAll=[
[.05,[2.32,-33,2.45,-31.5,2.58,-36,2.68,-41.5,2.6,-44,2.47,-43,2.37,-38.5]],
[.2,[2.39,-36,2.5,-36.5,2.6,-40.5,2.55,-42,2.46,-41]],
[.45,[2.41,-36.5,2.5,-37,2.59,-40.7,2.5,-41.6]],
[.75,[2.44,-37.5,2.52,-38,2.56,-40.5,2.47,-41]]];
const whiteEAll=[
[2.24,-33.5,2.258,-30,2.33,-28.3,2.449,-29.4,2.592,-33.5,2.723,-39.8,2.777,-42.9,2.747,-45.6,2.628,-47,2.449,-46.6,2.33,-41.8,2.27,-37.7],
[2.312,-34.6,2.342,-31,2.449,-31,2.58,-35.6,2.687,-40.8,2.693,-42.5,2.628,-44.5,2.473,-43.9,2.366,-39.8],
[2.384,-37,2.407,-35,2.497,-36.2,2.58,-39.1,2.616,-41.2,2.556,-42.5,2.461,-41.4]];
const orangeEAll=[
[2.292,-33.5,2.312,-30.4,2.39,-30.4,2.473,-35,2.529,-40.4,2.509,-42.5,2.425,-41.8,2.342,-38.7],
[2.318,-35.6,2.348,-32.5,2.413,-34.2,2.479,-38.7,2.497,-41.2,2.449,-41.8,2.372,-39.8],
[2.356,-35.2,2.384,-33.5,2.425,-35.6,2.461,-39.8,2.437,-40.8,2.39,-39.1]];

const panelData=[
[[heatA2007,whiteA2007,orangeA2007],[heatA2009,whiteA2009,orangeA2009],[heatAAll,whiteAAll,orangeAAll]],
[[heatB2007,whiteB2007,orangeB2007],[heatB2009,whiteB2009,orangeB2009],[heatBAll,whiteBAll,orangeBAll]],
[[heatC2007,whiteC2007,orangeC2007],[heatC2009,whiteC2009,orangeC2009],[heatCAll,whiteCAll,orangeCAll]],
[[heatD2007,whiteD2007,orangeD2007],[heatD2009,whiteD2009,orangeD2009],[heatDAll,whiteDAll,orangeDAll]],
[[heatE2007,whiteE2007,orangeE2007],[heatE2009,whiteE2009,orangeE2009],[heatEAll,whiteEAll,orangeEAll]]];

// ---- layout / style ----
const colLeft=[83.5,383.5,683.5], panelW=289, panelH=289;
const rowTop=[12,358.5,704.5,1051,1397];
const cbLeft=983.5, cbW=12.5;
const FONT='DejaVu Sans', TICKSIZE=19.3;
const OFF=3000;

function hex(c){return [1,3,5].map(i=>parseInt(c.substr(i,2),16));}
function cmap(v){const n=colorStops.length-1,t=Math.min(.9999,Math.max(0,v))*n,i=Math.floor(t),f=t-i;
 const a=hex(colorStops[i]),b=hex(colorStops[i+1]);
 return 'rgb('+a.map((x,k)=>Math.round(x+(b[k]-x)*f)).join(',')+')';}
function pairs(f){const o=[];for(let i=0;i<f.length;i+=2)o.push([f[i],f[i+1]]);return o;}

const grid=[],xAxis=[],yAxis=[],series=[],title=[];
const tickLine={length:6,inside:true,lineStyle:{color:'#000',width:1.2}};
const axLine={show:true,onZero:false,lineStyle:{color:'#000',width:1.6}};
let g=0;
function addAxes(gi,xr,ticks,showY,xname){
 const base={type:'value',gridIndex:gi,min:xr[0],max:xr[1],z:10,splitLine:{show:false},axisLine:axLine};
 xAxis.push({...base,position:'bottom',name:xname,nameLocation:'middle',nameGap:35,
  nameTextStyle:{fontFamily:FONT,fontSize:17,color:'#000'},
  axisTick:{...tickLine,customValues:ticks},
  axisLabel:{show:true,customValues:ticks,margin:7,padding:[0,0,0,4],fontFamily:FONT,fontSize:TICKSIZE,color:'#000',formatter:v=>v.toFixed(1)}});
 xAxis.push({...base,position:'top',axisTick:{...tickLine,customValues:ticks},axisLabel:{show:false}});
 const yb={type:'value',gridIndex:gi,min:-90,max:90,interval:30,z:10,splitLine:{show:false},axisLine:axLine};
 yAxis.push({...yb,position:'left',name:showY?'Orientation (deg)':'',nameLocation:'middle',nameGap:54,nameRotate:90,
  nameTextStyle:{fontFamily:FONT,fontSize:17,color:'#000'},
  axisTick:tickLine,axisLabel:{show:showY,margin:6,fontFamily:FONT,fontSize:TICKSIZE,color:'#000',formatter:v=>String(v).replace('-','\u2212')}});
 yAxis.push({...yb,position:'right',axisTick:tickLine,axisLabel:{show:false}});
}
const lineSeries=(pts,color,z,gi)=>({type:'line',xAxisIndex:2*gi,yAxisIndex:2*gi,data:pts,showSymbol:false,symbol:'none',
 smooth:.45,silent:true,animation:false,z,lineStyle:{color,width:2},clip:true});
function closeIfLoop(pts,xr){const a=pts[0],b=pts[pts.length-1];
 const d=Math.hypot((a[0]-b[0])/(xr[1]-xr[0]),(a[1]-b[1])/180);
 return d<.15?pts.concat([a]):pts;}

rowNames.forEach((rn,r)=>{
 yearNames.forEach((yn,c)=>{
  const gi=g++;
  grid.push({left:colLeft[c],top:rowTop[r],width:panelW,height:panelH,show:true,backgroundColor:'#081d58',borderWidth:0});
  addAxes(gi,xRanges[r],xTicks[r],c===0,r===4?'Flux scale':'');
  const [heat,white,orange]=panelData[r][c];
  const polys=heat.slice().sort((a,b)=>a[0]-b[0]).map(([lv,f])=>({lv,pts:pairs(f)}));
  series.push({type:'custom',xAxisIndex:2*gi,yAxisIndex:2*gi,z:2,silent:true,animation:false,clip:false,
   data:polys.map(p=>[p.pts[0][0],p.pts[0][1],p.lv]),encode:{x:0,y:1},
   renderItem:(params,api)=>{
    const p=polys[params.dataIndex];
    const pts=p.pts.map(q=>api.coord(q));
    const xs=pts.map(q=>q[0]),ys=pts.map(q=>q[1]);
    const dim=Math.min(Math.max(...xs)-Math.min(...xs),Math.max(...ys)-Math.min(...ys));
    const col=cmap(p.lv), cs=params.coordSys;
    // the shape sits off-canvas: only its soft shadow lands in the panel, which gives the smooth shading
    return {type:'polygon',shape:{points:pts.map(q=>[q[0]-OFF,q[1]]),smooth:.8},
     clipPath:{type:'rect',shape:{x:cs.x,y:cs.y,width:cs.width,height:cs.height}},
     style:{fill:col,shadowBlur:Math.max(2,Math.min(24,dim*.25)),shadowColor:col,shadowOffsetX:OFF}};
   }});
  white.forEach(f=>series.push(lineSeries(closeIfLoop(pairs(f),xRanges[r]),'#ffffff',3,gi)));
  orange.forEach(f=>series.push(lineSeries(closeIfLoop(pairs(f),xRanges[r]),'#ffa500',4,gi)));
  const ts={color:'#fff',fontFamily:FONT,fontSize:20,fontWeight:'normal'};
  title.push({text:rn,left:colLeft[c]+16.5,top:rowTop[r]+17,padding:0,textStyle:ts,z:20});
  title.push({text:yn,left:colLeft[c]+16.5,top:rowTop[r]+256,padding:0,textStyle:ts,z:20});
 });
 // colour bar
 const gi=g++;
 grid.push({left:cbLeft,top:rowTop[r],width:cbW,height:panelH});
 const cbx={type:'category',gridIndex:gi,data:['cb'],z:10,axisLine:axLine,axisTick:{show:false},axisLabel:{show:false},splitLine:{show:false}};
 xAxis.push({...cbx,position:'bottom'},{...cbx,position:'top'});
 const cby={type:'value',gridIndex:gi,min:0,max:1,interval:.25,z:10,axisLine:axLine,splitLine:{show:false}};
 yAxis.push({...cby,position:'left',axisTick:{show:false},axisLabel:{show:false}});
 yAxis.push({...cby,position:'right',axisTick:{...tickLine,length:6.5},axisLabel:{show:true,margin:7,fontFamily:FONT,fontSize:TICKSIZE,color:'#000',formatter:v=>v.toFixed(2)}});
 series.push({type:'bar',xAxisIndex:2*gi,yAxisIndex:2*gi,data:[1],barWidth:'100%',silent:true,animation:false,z:2,
  itemStyle:{color:{type:'linear',x:0,y:1,x2:0,y2:0,global:false,colorStops:colorStops.map((c,i)=>({offset:i/(colorStops.length-1),color:c}))}}});
});

const chart=echarts.init(document.getElementById('c'),null,{renderer:'canvas',width:1055,height:1740});
chart.setOption({animation:false,backgroundColor:'#fff',grid,xAxis,yAxis,series,title,tooltip:{show:false}});
</script></body></html>
